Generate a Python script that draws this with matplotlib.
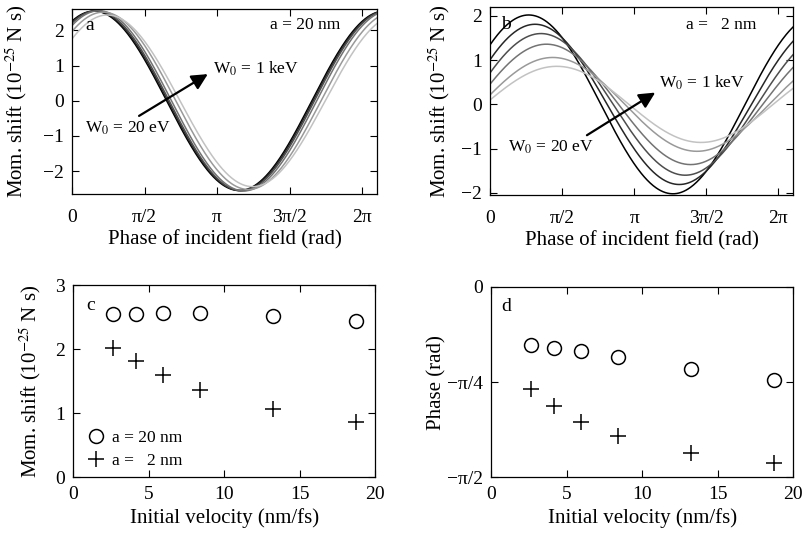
import numpy as np
import matplotlib
matplotlib.use("Agg")
import matplotlib.pyplot as plt

plt.rcParams['font.family'] = ['Liberation Serif', 'DejaVu Serif']
plt.rcParams['mathtext.fontset'] = 'stix'
plt.rcParams['axes.linewidth'] = 0.9

# Data
energies = ['20 eV', '50 eV', '100 eV', '200 eV', '500 eV', '1 keV']
velocity = [2.65, 4.19, 5.93, 8.39, 13.26, 18.75]          # nm/fs
amp_20nm = [2.55, 2.55, 2.56, 2.56, 2.52, 2.44]            # 1e-25 N s
amp_2nm = [2.02, 1.81, 1.60, 1.36, 1.06, 0.86]
phase_20nm = [-0.477, -0.504, -0.532, -0.582, -0.675, -0.766]  # rad
phase_2nm = [-0.843, -0.981, -1.111, -1.229, -1.367, -1.455]
grays = ['0.0', '0.15', '0.3', '0.45', '0.6', '0.76']

phi = np.linspace(0, 6.6, 400)
pi_ticks = [0, np.pi/2, np.pi, 3*np.pi/2, 2*np.pi]
pi_labels = ['0', 'π/2', 'π', '3π/2', '2π']

fig = plt.figure(figsize=(8.05, 5.39), dpi=100)
axa = fig.add_axes([0.0894, 0.640, 0.379, 0.344])
axb = fig.add_axes([0.6087, 0.638, 0.3764, 0.349])
axc = fig.add_axes([0.0907, 0.1146, 0.3754, 0.356])
axd = fig.add_axes([0.6099, 0.1146, 0.3755, 0.353])

TICK = 14
LAB = 15
ANN = 12.5
ARROW = dict(arrowstyle='-|>,head_length=0.6,head_width=0.3',
             color='black', lw=1.6, mutation_scale=16)

def style(ax, xpad=6):
    ax.tick_params(direction='in', top=True, right=True, length=5, width=0.8,
                   labelsize=TICK, pad=6)
    ax.tick_params(axis='x', pad=xpad)

ylab = 'Mom. shift (10$^{-25}$ N s)'

# Panel a
for A, p, g in zip(amp_20nm, phase_20nm, grays):
    axa.plot(phi, A*np.cos(phi + p), color=g, lw=1.1)
axa.set_xlim(0, 6.6)
axa.set_ylim(-2.65, 2.62)
axa.set_xticks(pi_ticks, pi_labels)
axa.set_yticks([-2, -1, 0, 1, 2])
axa.set_xlabel('Phase of incident field (rad)', fontsize=LAB, labelpad=3)
axa.set_ylabel(ylab, fontsize=LAB)
axa.yaxis.set_label_coords(-0.14, 0.5)
style(axa, xpad=11)
axa.text(0.28, 2.13, 'a', fontsize=14, va='center')
axa.text(4.28, 2.16, 'a = 20 nm', fontsize=ANN, va='center')
axa.annotate('', xy=(2.99, 0.80), xytext=(1.40, -0.47), arrowprops=ARROW)
axa.text(0.28, -0.79, 'W$_0$ = 20 eV', fontsize=ANN, va='center')
axa.text(3.06, 0.92, 'W$_0$ = 1 keV', fontsize=ANN, va='center')

# Panel b
for A, p, g in zip(amp_2nm, phase_2nm, grays):
    axb.plot(phi, A*np.cos(phi + p), color=g, lw=1.1)
axb.set_xlim(0, 6.6)
axb.set_ylim(-2.05, 2.2)
axb.set_xticks(pi_ticks, pi_labels)
axb.set_yticks([-2, -1, 0, 1, 2])
axb.set_xlabel('Phase of incident field (rad)', fontsize=LAB, labelpad=3)
axb.set_ylabel(ylab, fontsize=LAB)
axb.yaxis.set_label_coords(-0.125, 0.5)
style(axb, xpad=11)
axb.text(0.25, 1.80, 'b', fontsize=14, va='center')
axb.text(4.27, 1.80, 'a =   2 nm', fontsize=ANN, va='center')
axb.annotate('', xy=(3.65, 0.30), xytext=(2.06, -0.73), arrowprops=ARROW)
axb.text(0.40, -0.97, 'W$_0$ = 20 eV', fontsize=ANN, va='center')
axb.text(3.68, 0.48, 'W$_0$ = 1 keV', fontsize=ANN, va='center')

# Panel c
axc.plot(velocity, amp_20nm, 'o', ms=10, mfc='none', mec='black', mew=1.1,
         label='a = 20 nm')
axc.plot(velocity, amp_2nm, '+', ms=11, mec='black', mew=1.1,
         label='a =   2 nm')
axc.set_xlim(0, 20)
axc.set_ylim(0, 3)
axc.set_xticks([0, 5, 10, 15, 20])
axc.set_yticks([0, 1, 2, 3])
axc.set_xlabel('Initial velocity (nm/fs)', fontsize=LAB)
axc.set_ylabel(ylab, fontsize=LAB)
axc.yaxis.set_label_coords(-0.10, 0.5)
style(axc, xpad=6)
axc.text(0.89, 2.69, 'c', fontsize=14, va='center')
axc.legend(loc='lower left', frameon=False, fontsize=ANN, handlelength=1.0,
           handletextpad=0.45, borderaxespad=0.2, labelspacing=0.4,
           bbox_to_anchor=(0.012, -0.012))

# Panel d
axd.plot(velocity, phase_20nm, 'o', ms=10, mfc='none', mec='black', mew=1.1)
axd.plot(velocity, phase_2nm, '+', ms=11, mec='black', mew=1.1)
axd.set_xlim(0, 20)
axd.set_ylim(-np.pi/2, 0)
axd.set_xticks([0, 5, 10, 15, 20])
axd.set_yticks([-np.pi/2, -np.pi/4, 0], ['−π/2', '−π/4', '0'])
axd.set_xlabel('Initial velocity (nm/fs)', fontsize=LAB)
axd.set_ylabel('Phase (rad)', fontsize=LAB)
axd.yaxis.set_label_coords(-0.148, 0.5)
style(axd, xpad=6)
axd.text(0.71, -0.16, 'd', fontsize=14, va='center')

fig.savefig('out.png', dpi=100)
